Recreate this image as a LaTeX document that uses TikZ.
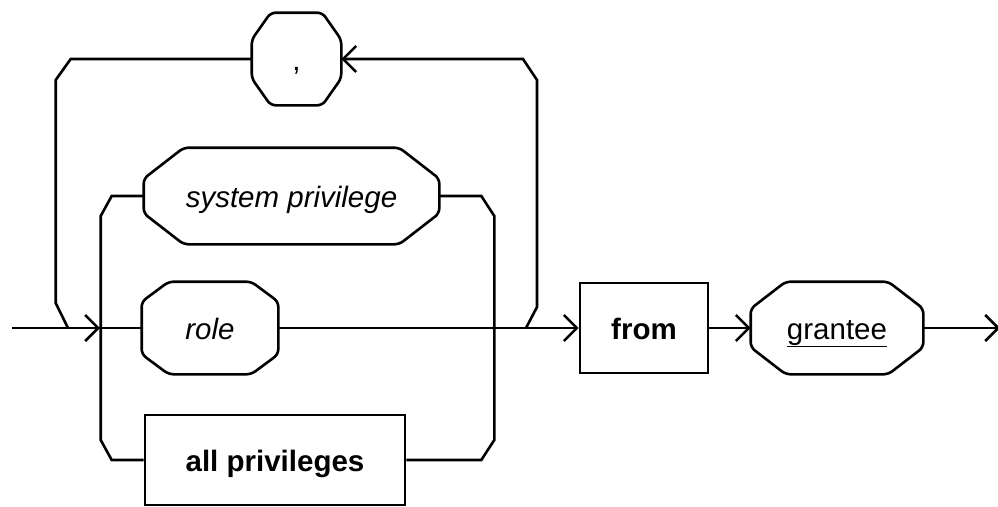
\documentclass[tikz,border=0pt]{standalone}
\usepackage{fontspec}
\setmainfont{Liberation Sans}
\usetikzlibrary{arrows.meta,calc,positioning}

% octagon round a node: #2 horizontal and #3 vertical cut of each corner
\newcommand{\cutbox}[3]{%
  \draw[rounded corners=5pt] ($(#1.north west)+(#2,0)$) -- ($(#1.north east)+(-#2,0)$)
    -- ($(#1.north east)+(0,#3)$) -- ($(#1.south east)+(0,-#3)$)
    -- ($(#1.south east)+(-#2,0)$) -- ($(#1.south west)+(#2,0)$)
    -- ($(#1.south west)+(0,-#3)$) -- ($(#1.north west)+(0,#3)$) -- cycle;}

\begin{document}
\begin{tikzpicture}[x=1pt,y=-1pt,line width=2.6pt,
    >={Straight Barb[length=13pt,width=26pt,line width=2.6pt]}]
\fontsize{29.5}{34}\selectfont
\tikzstyle{term}=[inner sep=0pt, text height=24pt, text depth=2pt, minimum height=90pt]
\tikzstyle{nonterm}=[term, font=\itshape]
\tikzstyle{kw}=[term, draw, font=\bfseries]
\useasboundingbox (0,0) rectangle (998,506);
% boxes
\node[nonterm, minimum width=87pt, font=\upshape] (comma) at (296.5,59) {,};
\node[nonterm, minimum width=293pt, minimum height=94pt] (sysp) at (291.5,196) {system privilege};
\node[nonterm, minimum width=134pt] (role) at (210,328) {role};
\node[kw, minimum width=260pt] (allp) at (275,460) {all privileges};
\node[kw, minimum width=128pt] (from) at (644,328) {from};
\node[nonterm, minimum width=170pt, font=\upshape] (grantee) at (837,328) {\underline{grantee}};
\cutbox{comma}{19}{27}
\cutbox{sysp}{40}{31}
\cutbox{role}{27}{20}
\cutbox{grantee}{35}{27}
% junctions on the main line
\coordinate (start) at (12,328);
\coordinate (jl) at (68,328);
\coordinate (jin) at (100,328);
\coordinate (jr) at (526,328);
\coordinate (stop) at (1000,328);
\draw (start) -- (role);
\draw[->] (jl) -- (jin);
\draw[->] (role) -- (from);
\draw[->] (from) -- (grantee);
\draw[->] (grantee) -- (stop);
% repeat loop through the comma
\draw[->] (jr) -- ++(11,-21) -- ++(0,-227) -- ++(-14,-21) -- (comma.east);
\draw (comma.west) -- ++(-181,0) -- ++(-15,21) -- ++(0,223) -- (jl);
% alternatives
\draw (sysp.west) -- ++(-32,0) -- ++(-11,20) -- ++(0,224) -- ++(11,20) -- (allp.west);
\draw (sysp.east) -- ++(42,0) -- ++(13,20) -- ++(0,224) -- ++(-13,20) -- (allp.east);
\end{tikzpicture}
\end{document}
